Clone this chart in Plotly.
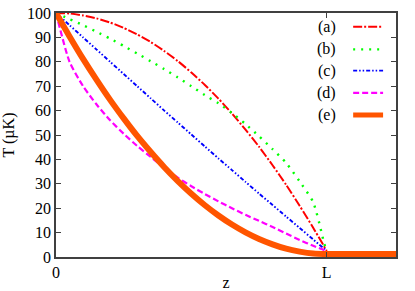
import plotly.graph_objects as go

# z in units of L
z = [0, 0.05, 0.1, 0.15, 0.2, 0.25, 0.3, 0.35, 0.4, 0.45, 0.5, 0.55, 0.6,
     0.65, 0.7, 0.75, 0.8, 0.85, 0.9, 0.95, 1.0]
T_a = [100, 99.8, 99.0, 97.8, 96.1, 93.9, 91.2, 88.1, 84.4, 80.3, 75.6, 70.5,
       64.9, 58.8, 52.2, 45.2, 37.6, 29.6, 21.0, 12.0, 2.5]

z_b = [0, 0.05, 0.1, 0.15, 0.2, 0.25, 0.3, 0.35, 0.4, 0.45, 0.5, 0.55, 0.6,
       0.65, 0.7, 0.75, 0.8, 0.85, 0.9, 0.95, 0.98, 0.99, 1.0]
T_b = [100, 97.5, 95.0, 92.3, 89.5, 86.5, 83.4, 80.2, 77.0, 73.6, 70.0, 66.3,
       63.0, 59.0, 54.5, 49.5, 44.2, 38.6, 31.0, 22.5, 10.5, 5.8, 2.5]

T_c = [100, 95.0, 90.0, 85.0, 80.0, 75.0, 70.0, 65.0, 60.0, 55.1, 50.2, 45.3,
       40.4, 35.6, 30.8, 26.0, 21.3, 16.6, 11.9, 7.2, 2.5]

T_d = [100, 80.0, 70.0, 62.5, 56.0, 50.5, 45.5, 41.0, 36.5, 32.5, 29.0, 25.8,
       22.8, 20.0, 17.3, 14.8, 12.3, 9.6, 7.0, 4.6, 2.5]

z_e = [0, 0.05, 0.1, 0.15, 0.2, 0.25, 0.3, 0.35, 0.4, 0.45, 0.5, 0.55, 0.6,
       0.65, 0.7, 0.75, 0.8, 0.85, 0.9, 0.95, 1.0, 1.1, 1.26]
T_e = [100, 90.4, 81.2, 72.6, 64.4, 56.8, 49.6, 43.0, 36.8, 31.1, 25.9, 21.2,
       17.0, 13.3, 10.1, 7.4, 5.2, 3.4, 2.2, 1.4, 1.2, 1.2, 1.2]

labels = ["(a)", "(b)", "(c)", "(d)", "(e)"]
colors = ["#ff0000", "#00ff00", "#0000ff", "#ff00ff", "#ff5500"]
dashes = ["9px,2px,2px,2px", "2px,6px", "4px,2px,1.5px,2px,1.5px,2px", "6px,3px", "solid"]
widths = [2.0, 2.4, 1.9, 2.2, 6]

xs = [z, z_b, z, z, z_e]
ys = [T_a, T_b, T_c, T_d, T_e]

fig = go.Figure()
for i in range(5):
    fig.add_trace(go.Scatter(
        x=xs[i], y=ys[i], mode="lines", name=labels[i],
        line=dict(color=colors[i], width=widths[i], dash=dashes[i],
                  shape="spline", smoothing=0.6),
        showlegend=False, cliponaxis=True))

font = dict(family="Liberation Serif, Times New Roman, serif", size=16, color="#000000")

# custom legend (text left of sample, gnuplot-style)
leg_y = [0.944, 0.851, 0.764, 0.673, 0.582]
for i in range(5):
    fig.add_annotation(xref="paper", yref="paper", x=0.828, y=leg_y[i],
                       text=labels[i], showarrow=False, xanchor="right",
                       yanchor="middle", font=font)
    fig.add_shape(type="line", xref="paper", yref="paper",
                  x0=0.874, x1=0.962, y0=leg_y[i], y1=leg_y[i],
                  line=dict(color=colors[i], width=widths[i] if i < 4 else 5,
                            dash=dashes[i]))

fig.update_layout(
    width=415, height=291,
    margin=dict(l=56, r=19, t=13, b=34, autoexpand=False),
    paper_bgcolor="white", plot_bgcolor="white",
    font=font,
    xaxis=dict(range=[0, 1.256], tickvals=[0, 1], ticktext=["0", "L"],
               showgrid=False, zeroline=False, showline=True, mirror="ticks",
               linecolor="#404040", linewidth=1.5, ticks="inside", ticklen=5,
               tickcolor="#404040", tickwidth=1, automargin=False,
               ticklabeloverflow="allow",
               title=dict(text="z", font=font, standoff=0)),
    yaxis=dict(range=[0, 100], dtick=10, showgrid=False, zeroline=False,
               showline=True, mirror="ticks", linecolor="#404040",
               linewidth=1.5, ticks="inside", ticklen=5, tickcolor="#404040",
               tickwidth=1, automargin=False, ticklabeloverflow="allow",
               title=dict(text="T (µK)", font=font, standoff=8)),
)

# remove the browser's default 8px body margin so the figure sits at (0, 0)
fig.write_html("out.html", config={"displayModeBar": False},
               post_script="document.body.style.margin='0';")
